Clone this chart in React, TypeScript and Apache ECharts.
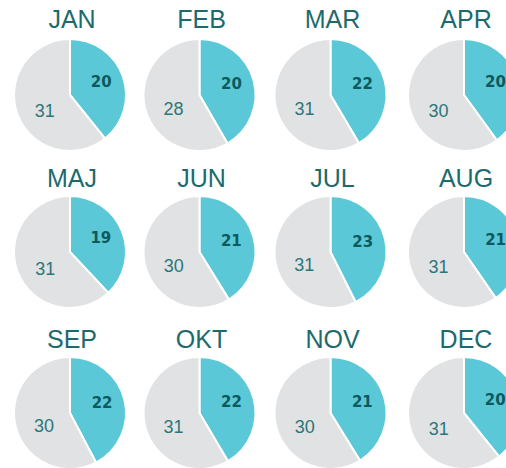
import React, { useEffect, useRef } from "react";
import * as echarts from "echarts";

const months = ["JAN", "FEB", "MAR", "APR", "MAJ", "JUN", "JUL", "AUG", "SEP", "OKT", "NOV", "DEC"];
const workDays = [20, 20, 22, 20, 19, 21, 23, 21, 22, 22, 21, 20];
const totalDays = [31, 28, 31, 30, 31, 30, 31, 31, 30, 31, 30, 31];

const colX = [70, 199.5, 330.5, 464];
const rowY = [95, 252, 413];
const titleY = [19, 178, 339];
const RADIUS = 56;

export default function App() {
  const ref = useRef<HTMLDivElement>(null);
  useEffect(() => {
    if (!ref.current) return;
    const chart = echarts.init(ref.current, null, { renderer: "svg" });
    const series: any[] = [];
    const graphics: any[] = [];
    months.forEach((m, i) => {
      const cx = colX[i % 4];
      const cy = rowY[Math.floor(i / 4)];
      series.push({
        type: "pie",
        center: [cx, cy],
        radius: [0, RADIUS],
        startAngle: 90,
        clockwise: true,
        silent: true,
        avoidLabelOverlap: false,
        itemStyle: { borderColor: "#ffffff", borderWidth: 2 },
        labelLine: { show: false },
        labelLayout: (p: any) =>
          p.dataIndex === 0 ? { dx: 2, dy: -3 } : { dx: 4, dy: 6 },
        data: [
          {
            value: workDays[i],
            name: "work",
            itemStyle: { color: "#5bc8d8" },
            label: {
              show: true,
              position: "inside",
              formatter: "{c}",
              fontFamily: "DejaVu Sans",
              fontWeight: "bold",
              fontSize: 15,
              color: "#0c5a5d",
            },
          },
          {
            value: totalDays[i],
            name: "days",
            itemStyle: { color: "#e1e2e4" },
            label: {
              show: true,
              position: "inside",
              formatter: "{c}",
              fontFamily: "Liberation Sans",
              fontWeight: "normal",
              fontSize: 18,
              color: "#2b7778",
            },
          },
        ],
      });
      graphics.push({
        type: "text",
        x: cx + 2,
        y: titleY[Math.floor(i / 4)],
        style: {
          text: m,
          fontFamily: "Liberation Sans",
          fontSize: 25,
          fill: "#1d6a6d",
          textAlign: "center",
          textVerticalAlign: "middle",
        },
      });
    });
    chart.setOption({
      animation: false,
      backgroundColor: "#ffffff",
      series,
      graphic: graphics,
    });
    return () => chart.dispose();
  }, []);
  return (
    <div
      ref={ref}
      style={{ position: "absolute", left: 0, top: 0, width: 506, height: 468 }}
    />
  );
}
